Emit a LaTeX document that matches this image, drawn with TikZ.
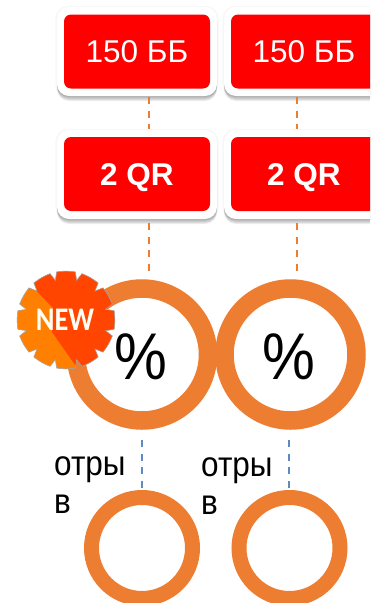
\documentclass[tikz,border=0pt]{standalone}
\usepackage{fontspec}
\setmainfont{Liberation Sans}
\newfontfamily\narrowfont[FakeStretch=0.9]{Liberation Sans}
\newfontfamily\badgefont[FakeStretch=0.86]{Carlito}
\usetikzlibrary{shadows}
\definecolor{boxred}{HTML}{FF0000}
\definecolor{ringorange}{HTML}{ED7D31}
\definecolor{linkblue}{HTML}{5B8BC5}
\definecolor{badgelight}{HTML}{FF7F00}
\definecolor{badgedark}{HTML}{FF4500}
\def\gearpath{(-11:49) \foreach \t in {0,30,...,330} {
      -- (\t-11:49) to[bend left=8] (\t+11:49) -- (\t+15:41) -- (\t+30-15:41)
    } -- cycle}
\tikzset{
  redbox/.style={rectangle,rounded corners=7pt,fill=boxred,text=white,minimum width=146pt,minimum height=74pt,inner sep=0pt,text depth=0pt,font=\fontsize{31.5}{31.5}\selectfont},
  softshade/.style={general shadow={shadow xshift=0pt,shadow yshift=-#1,fill=black,opacity=0.07}},
  haloshade/.style={general shadow={shadow xshift=0pt,shadow yshift=0pt,shadow scale=1.02,fill=black,opacity=0.03}},
  whitebox/.style={rectangle,rounded corners=12pt,fill=white,minimum width=160pt,minimum height=89pt,
    haloshade,softshade=5pt,softshade=4pt,softshade=3pt,softshade=2pt,softshade=1pt},
  bigring/.style={circle,draw=ringorange,line width=18.5pt,minimum size=132pt,inner sep=0pt},
  smallring/.style={circle,draw=ringorange,line width=15pt,minimum size=101pt,inner sep=0pt},
  orangelink/.style={draw=ringorange,line width=2pt,dash pattern=on 7pt off 6.5pt},
  bluelink/.style={draw=linkblue,line width=2pt,dash pattern=on 7pt off 6.5pt},
  pct/.style={font=\narrowfont\fontsize{66}{66}\selectfont,inner sep=0pt},
  lbl/.style={font=\narrowfont\fontsize{35}{38}\selectfont,align=left,inner sep=0pt,anchor=base west}
}
\begin{document}
\begin{tikzpicture}[x=1pt,y=-1pt]
\useasboundingbox (0,0) rectangle (370,603);
\clip (0,0) rectangle (370,603);

\foreach \col/\cx in {a/137,b/304} {
  \node[whitebox] (back1\col) at (\cx,51.5) {};
  \node[redbox] (top\col) at (\cx,51.5) {150 ББ};
  \node[whitebox] (back2\col) at (\cx,174.5) {};
  \node[redbox,font=\fontsize{31.5}{31.5}\selectfont\bfseries] (mid\col) at (\cx,174) {2 QR};
}

\node[bigring] (pcta) at (142,354.5) {};
\node[bigring] (pctb) at (290.5,354.5) {};
\node[pct] at (140.5,357) (signa) {\%};
\node[pct] at (288.5,357) (signb) {\%};
\node[smallring] (lowa) at (142,548) {};
\node[smallring] (lowb) at (289.5,548) {};

\coordinate (a1) at (149,97);
\coordinate (a2) at (149,129);
\coordinate (a3) at (149,223);
\coordinate (a4) at (149,273);
\coordinate (b1) at (296.5,97);
\coordinate (b2) at (296.5,129);
\coordinate (b3) at (296.5,223);
\coordinate (b4) at (296.5,273);
\coordinate (c1) at (142,440);
\coordinate (c2) at (142,490);
\coordinate (d1) at (289,440);
\coordinate (d2) at (289,490);
\draw[orangelink] (a1) -- (a2);
\draw[orangelink] (a3) -- (a4);
\draw[orangelink] (b1) -- (b2);
\draw[orangelink] (b3) -- (b4);
\draw[bluelink] (c1) -- (c2);
\draw[bluelink] (d1) -- (d2);

\node[lbl] (texta) at (54,513) {отры\\в};
\node[lbl] (textb) at (201,514.5) {отры\\в};

\begin{scope}[shift={(66,320)}]
  \path[fill=badgelight,draw=gray!70,line width=0.6pt,
    path picture={\fill[badgedark] (-40,-40) -- (-13,-12) -- (-14,12) -- (14,52) -- (60,52) -- (60,-60) -- (-40,-60) -- cycle;}]
    \gearpath;
\end{scope}
\node[font=\badgefont\fontsize{33}{33}\selectfont\bfseries,text=white!95!yellow,inner sep=0pt] (newmark) at (65,320) {NEW};
\end{tikzpicture}
\end{document}
